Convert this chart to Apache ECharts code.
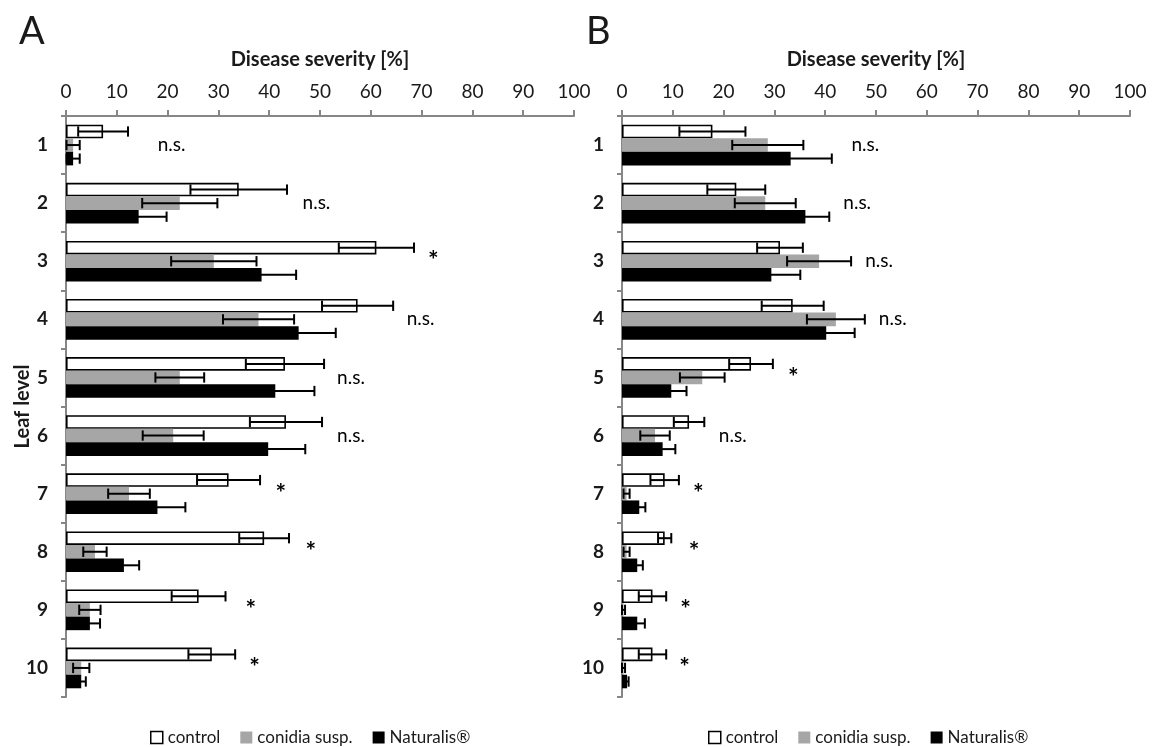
<!DOCTYPE html>
<html><head><meta charset="utf-8">
<script src="https://cdn.jsdelivr.net/npm/echarts@6/dist/echarts.min.js"></script>
<style>html,body{margin:0;padding:0;background:#fff}#c{width:1153px;height:747px}</style>
</head><body><div id="c"></div>
<script>
const categories = ['1','2','3','4','5','6','7','8','9','10'];
const seriesNames = ['control','conidia susp.','Naturalis®'];
const xTicks = { min: 0, max: 100, interval: 10 };

// Panel A
const aControl    = [7.3, 34.0, 61.1, 57.4, 43.1, 43.3, 32.0, 39.0, 26.1, 28.7];
const aControlErr = [4.9, 9.5, 7.4, 7.0, 7.7, 7.1, 6.2, 4.9, 5.3, 4.6];
const aConidia    = [1.4, 22.4, 29.1, 37.9, 22.4, 21.1, 12.4, 5.7, 4.7, 3.0];
const aConidiaErr = [1.3, 7.4, 8.4, 7.0, 4.8, 6.0, 4.1, 2.3, 2.1, 1.6];
const aNat        = [1.4, 14.3, 38.5, 45.8, 41.2, 39.8, 18.0, 11.4, 4.7, 3.0];
const aNatErr     = [1.3, 5.5, 6.8, 7.3, 7.7, 7.3, 5.5, 3.0, 2.0, 0.9];
const annotA      = ['n.s.','n.s.','*','n.s.','n.s.','n.s.','*','*','*','*'];
const annotAx     = [20.8, 49.3, 72.3, 69.8, 56.1, 56.1, 42.3, 48.2, 36.4, 37.1];

// Panel B
const bControl    = [17.8, 22.5, 31.1, 33.6, 25.4, 13.2, 8.4, 8.4, 6.0, 6.0];
const bControlErr = [6.5, 5.7, 4.5, 6.1, 4.3, 3.0, 2.8, 1.3, 2.7, 2.7];
const bConidia    = [28.7, 28.2, 38.8, 42.1, 15.8, 6.5, 0.9, 0.9, 0.3, 0.3];
const bConidiaErr = [7.0, 6.0, 6.3, 5.7, 4.4, 2.9, 0.6, 0.6, 0.3, 0.3];
const bNat        = [33.2, 36.1, 29.4, 40.2, 9.7, 8.0, 3.4, 3.0, 3.0, 1.0];
const bNatErr     = [8.1, 4.7, 5.7, 5.6, 3.0, 2.5, 1.2, 1.1, 1.5, 0.3];
const annotB      = ['n.s.','n.s.','n.s.','n.s.','*','n.s.','*','*','*','*'];
const annotBx     = [47.9, 46.3, 50.6, 53.3, 33.7, 21.8, 15.0, 14.2, 12.5, 12.3];

const FONT = 'Lato';
const TXT = '#1a1a1a';
const AXC = '#868686';
const barColors = ['#ffffff', '#a6a6a6', '#000000'];

function makeErr(k) {
  return function (params, api) {
    const v = api.value(0), c = api.value(1), e = api.value(2);
    const center = api.coord([0, c]);
    const band = api.size([0, 1])[1];
    const bh = band * 0.7 / 3;
    const y = center[1] + (k - 1) * bh;
    const x1 = api.coord([Math.max(0, v - e), c])[0];
    const x2 = api.coord([v + e, c])[0];
    const h = bh * 0.38;
    const st = { stroke: '#000', lineWidth: 2 };
    return { type: 'group', children: [
      { type: 'line', shape: { x1: x1, y1: y, x2: x2, y2: y }, style: st },
      { type: 'line', shape: { x1: x1, y1: y - h, x2: x1, y2: y + h }, style: st },
      { type: 'line', shape: { x1: x2, y1: y - h, x2: x2, y2: y + h }, style: st }
    ]};
  };
}

function xAxisCfg(g) {
  return {
    type: 'value', gridIndex: g, position: 'top',
    min: xTicks.min, max: xTicks.max, interval: xTicks.interval,
    name: 'Disease severity [%]', nameLocation: 'middle', nameGap: 46,
    nameTextStyle: { fontFamily: FONT, fontWeight: 'bold', fontSize: 20, color: TXT },
    axisLine: { show: true, lineStyle: { color: AXC, width: 2 } },
    axisTick: { show: true, length: 6, lineStyle: { color: AXC, width: 2 } },
    axisLabel: { margin: 15, fontFamily: FONT, fontSize: 19, color: TXT },
    splitLine: { show: false }
  };
}
function yAxisCfg(g, withName) {
  const c = {
    type: 'category', gridIndex: g, data: categories, inverse: true,
    axisLine: { show: true, lineStyle: { color: AXC, width: 2 } },
    axisTick: { show: true, length: 5, lineStyle: { color: AXC, width: 2 } },
    axisLabel: { margin: 18, fontFamily: FONT, fontWeight: 'bold', fontSize: 19, color: TXT },
    splitLine: { show: false }
  };
  if (withName) {
    Object.assign(c, {
      name: 'Leaf level', nameLocation: 'middle', nameGap: 33, nameRotate: 90,
      nameMoveOverlap: false,
      nameTextStyle: { fontFamily: FONT, fontWeight: 'bold', fontSize: 20, color: TXT }
    });
  }
  return c;
}

function panelSeries(g, vals, errs, annot, annotX) {
  const out = [];
  vals.forEach((arr, k) => {
    out.push({
      type: 'bar', name: seriesNames[k], xAxisIndex: g, yAxisIndex: g,
      data: arr, barGap: '0%', barCategoryGap: '30%', silent: true,
      itemStyle: k === 0 ? { color: '#fff', borderColor: '#000', borderWidth: 1.6 } : { color: barColors[k] }
    });
  });
  vals.forEach((arr, k) => {
    out.push({
      type: 'custom', xAxisIndex: g, yAxisIndex: g, z: 10, silent: true,
      renderItem: makeErr(k), encode: { x: 0, y: 1 },
      data: arr.map((v, i) => [v, i, errs[k][i]])
    });
  });
  out.push({
    type: 'scatter', xAxisIndex: g, yAxisIndex: g, silent: true, z: 11,
    symbolSize: 1, itemStyle: { color: 'rgba(0,0,0,0)', opacity: 1 },
    data: annot.map((t, i) => ({
      value: [annotX[i], i],
      label: {
        show: true, position: 'inside', formatter: t,
        fontFamily: FONT, color: '#000', opacity: 1,
        fontWeight: t === '*' ? 'bold' : 'normal',
        fontSize: t === '*' ? 25 : 19
      }
    }))
  });
  return out;
}

const legendData = [
  { name: seriesNames[0], itemStyle: { color: '#fff', borderColor: '#000', borderWidth: 1.5 } },
  { name: seriesNames[1], itemStyle: { color: '#a6a6a6' } },
  { name: seriesNames[2], itemStyle: { color: '#000' } }
];
function legendCfg(left) {
  return {
    data: legendData, left: left, top: 724, icon: 'rect', itemWidth: 12, itemHeight: 12,
    itemGap: 20, selectedMode: false,
    textStyle: { fontFamily: FONT, fontSize: 17, color: TXT }
  };
}

const chart = echarts.init(document.getElementById('c'), null, { renderer: 'canvas' });
chart.setOption({
  backgroundColor: '#fff',
  animation: false,
  graphic: [
    { type: 'text', left: 19, top: 13, style: { text: 'A', fontFamily: FONT, fontSize: 38, fill: TXT } },
    { type: 'text', left: 586, top: 13, style: { text: 'B', fontFamily: FONT, fontSize: 38, fill: TXT } }
  ],
  grid: [
    { left: 66, right: 579, top: 116, bottom: 50, containLabel: false },
    { left: 622, right: 23, top: 116, bottom: 50, containLabel: false }
  ],
  xAxis: [xAxisCfg(0), xAxisCfg(1)],
  yAxis: [yAxisCfg(0, true), yAxisCfg(1, false)],
  legend: [legendCfg(145), legendCfg(703)],
  series: [
    ...panelSeries(0, [aControl, aConidia, aNat], [aControlErr, aConidiaErr, aNatErr], annotA, annotAx),
    ...panelSeries(1, [bControl, bConidia, bNat], [bControlErr, bConidiaErr, bNatErr], annotB, annotBx)
  ]
});
</script>
</body></html>
